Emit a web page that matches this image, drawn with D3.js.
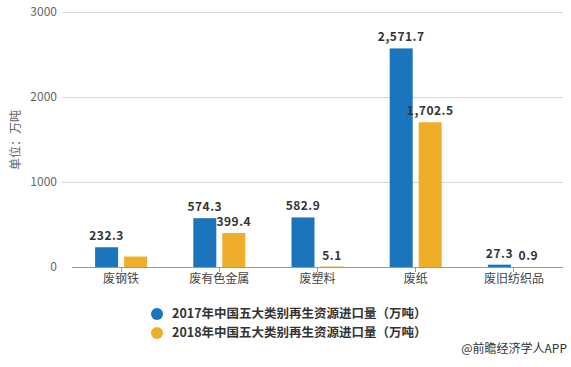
<!DOCTYPE html>
<html><head><meta charset="utf-8">
<script src="https://cdn.jsdelivr.net/npm/d3@7"></script>
<style>body{margin:0;background:#fff;}svg{display:block;font-family:"Noto Sans CJK SC","Noto Sans",sans-serif;}</style>
</head><body><div id="chart"></div>
<script>
const categories = ["废钢铁","废有色金属","废塑料","废纸","废旧纺织品"];
const values2017 = [232.3, 574.3, 582.9, 2571.7, 27.3];
const values2018 = [123, 399.4, 5.1, 1702.5, 0.9];
const labels2018 = [null, "399.4", "5.1", "1,702.5", "0.9"];
const yTicks = [0, 1000, 2000, 3000];
const seriesNames = ["2017年中国五大类别再生资源进口量（万吨）","2018年中国五大类别再生资源进口量（万吨）"];
const colors = ["#1B75BC", "#EFAE2A"];

const W = 571, H = 367;
const svg = d3.select("#chart").append("svg").attr("width", W).attr("height", H);

const x = d3.scaleBand().domain(categories).range([72, 563]);
const y = d3.scaleLinear().domain([0, 3000]).range([267, 12]);

// gridlines
svg.append("g").selectAll("line").data(yTicks.filter(d => d > 0)).join("line")
  .attr("x1", 62).attr("x2", 563).attr("y1", d => y(d)).attr("y2", d => y(d))
  .attr("stroke", "#d9d9d9").attr("stroke-width", 1).attr("shape-rendering", "crispEdges");

// y labels
svg.append("g").selectAll("text").data(yTicks).join("text")
  .attr("x", 57).attr("y", d => y(d)).attr("dy", "0.35em").attr("text-anchor", "end")
  .attr("font-size", 12).attr("fill", "#666").text(d => d);

// y title
svg.append("text").attr("transform", "translate(16,140) rotate(-90)")
  .attr("text-anchor", "middle").attr("dy", "0.35em").attr("font-size", 12).attr("fill", "#666").text("单位：万吨");

// baseline
svg.append("line").attr("x1", 72).attr("x2", 563).attr("y1", y(0)).attr("y2", y(0))
  .attr("stroke", "#999").attr("shape-rendering", "crispEdges");
const cx = d => x(d) + x.bandwidth() / 2;
svg.append("g").selectAll("line").data(categories).join("line")
  .attr("x1", cx).attr("x2", cx).attr("y1", y(0)).attr("y2", y(0) + 5)
  .attr("stroke", "#999").attr("shape-rendering", "crispEdges");
svg.append("g").selectAll("text").data(categories).join("text")
  .attr("x", cx).attr("y", y(0) + 16).attr("text-anchor", "middle")
  .attr("font-size", 12).attr("fill", "#444").text(d => d);

const bw = 23;
const fmt = d3.format(",.1f");
svg.append("g").selectAll("rect").data(values2017).join("rect")
  .attr("x", (d, i) => cx(categories[i]) - 3 - bw).attr("width", bw)
  .attr("y", d => y(d)).attr("height", d => y(0) - y(d)).attr("fill", colors[0]);
svg.append("g").selectAll("rect").data(values2018).join("rect")
  .attr("x", (d, i) => cx(categories[i]) + 3).attr("width", bw)
  .attr("y", d => y(d)).attr("height", d => y(0) - y(d)).attr("fill", colors[1]);

const lab = svg.append("g").attr("font-size", 12).attr("font-weight", "bold").attr("fill", "#333")
  .attr("text-anchor", "middle").attr("letter-spacing", "0.5px");
lab.selectAll("text.a").data(values2017).join("text").attr("class", "a")
  .attr("x", (d, i) => cx(categories[i]) - 3 - bw / 2).attr("y", d => y(d) - 7).text(d => fmt(d));
lab.selectAll("text.b").data(labels2018).join("text").attr("class", "b")
  .attr("x", (d, i) => cx(categories[i]) + 3 + bw / 2).attr("y", (d, i) => y(values2018[i]) - 7)
  .text(d => d || "");

// legend
const leg = svg.append("g");
seriesNames.forEach((s, i) => {
  const yy = 314 + i * 19;
  leg.append("circle").attr("cx", 157).attr("cy", yy).attr("r", 6).attr("fill", colors[i]);
  leg.append("text").attr("x", 172).attr("y", yy).attr("dy", "0.35em").attr("font-size", 12.5)
    .attr("font-weight", "bold").attr("fill", "#333").text(s);
});

svg.append("text").attr("x", 567).attr("y", 353).attr("text-anchor", "end")
  .attr("font-size", 12).attr("fill", "#333").text("@前瞻经济学人APP");
</script></body></html>
